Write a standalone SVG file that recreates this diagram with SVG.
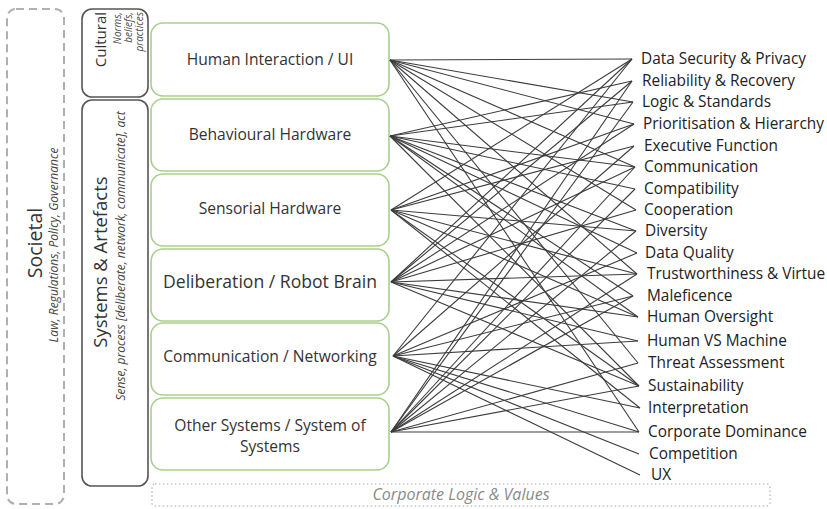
<svg xmlns="http://www.w3.org/2000/svg" width="827" height="509" viewBox="0 0 827 509">
<style>
.bg{fill:#ffffff}
.node rect{fill:#ffffff;stroke:#a9cf8c;stroke-width:1.6}
.node text{font-family:"Open Sans",Lato,sans-serif;font-size:15.6px;fill:#333;text-anchor:middle}
.frame{fill:none;stroke:#555;stroke-width:1.6}
.soc{fill:none;stroke:#b0b0b0;stroke-width:2;stroke-dasharray:8 5}
.corp{fill:none;stroke:#c4c4c4;stroke-width:1.6;stroke-dasharray:1.5 2.5}
.t{font-family:"Open Sans",Lato,sans-serif;fill:#333}
.it{font-family:"Open Sans",Lato,sans-serif;font-style:italic;fill:#444}
.lbl text{font-family:"Open Sans",Lato,sans-serif;font-size:15.4px;fill:#222}
.links line{stroke:#3c3c3c;stroke-width:1.1}
</style>
<rect class="bg" width="827" height="509"/>

<g id="societal">
<rect class="soc" x="7" y="9" width="57" height="495" rx="9"/>
<text class="t" font-size="19.5" text-anchor="middle" transform="translate(42,243) rotate(-90)">Societal</text>
<text class="it" font-size="12" text-anchor="middle" transform="translate(58,245) rotate(-90)">Law, Regulations, Policy, Governance</text>
</g>

<g id="cultural">
<rect class="frame" x="82" y="9" width="66" height="88" rx="10"/>
<text class="t" font-size="15" text-anchor="end" transform="translate(106,12) rotate(-90)">Cultural</text>
<text class="it" font-size="10" text-anchor="end" transform="translate(121,12) rotate(-90)">Norms,</text>
<text class="it" font-size="10" text-anchor="end" transform="translate(132,12) rotate(-90)">beliefs,</text>
<text class="it" font-size="10" text-anchor="end" transform="translate(143,12) rotate(-90)">practices</text>
</g>

<g id="systems">
<rect class="frame" x="82" y="100" width="66" height="386" rx="10"/>
<text class="t" font-size="18.5" text-anchor="middle" transform="translate(107,262) rotate(-90)">Systems &amp; Artefacts</text>
<text class="it" font-size="12" text-anchor="middle" transform="translate(125,256) rotate(-90)">Sense, process [deliberate, network, communicate], act</text>
</g>

<g id="corporate-logic">
<rect class="corp" x="152" y="484" width="618" height="22" rx="3"/>
<text class="it" font-size="16" style="fill:#8a8a8a" x="461" y="500" text-anchor="middle">Corporate Logic &amp; Values</text>
</g>

<g id="n-human-interaction" class="node"><rect x="151" y="23" width="238" height="73" rx="12"/><text x="270" y="65">Human Interaction / UI</text></g>
<g id="n-behavioural" class="node"><rect x="151" y="99" width="238" height="72" rx="12"/><text x="270" y="140">Behavioural Hardware</text></g>
<g id="n-sensorial" class="node"><rect x="151" y="174" width="238" height="72" rx="12"/><text x="270" y="214">Sensorial Hardware</text></g>
<g id="n-deliberation" class="node"><rect x="151" y="249" width="238" height="72" rx="12"/><text x="270" y="288" style="font-size:17.6px">Deliberation / Robot Brain</text></g>
<g id="n-communication" class="node"><rect x="151" y="323" width="238" height="72" rx="12"/><text x="270" y="362">Communication / Networking</text></g>
<g id="n-other" class="node"><rect x="151" y="398" width="238" height="72" rx="12"/><text x="270" y="431">Other Systems / System of</text><text x="270" y="452">Systems</text></g>

<g id="connectors" class="links">
<!-- Human Interaction / UI -->
<line x1="390" y1="60" x2="632" y2="59"/>
<line x1="390" y1="60" x2="633" y2="102"/>
<line x1="390" y1="60" x2="634" y2="124"/>
<line x1="390" y1="60" x2="635" y2="167"/>
<line x1="390" y1="60" x2="636" y2="210"/>
<line x1="390" y1="60" x2="637" y2="274"/>
<line x1="390" y1="60" x2="638" y2="363"/>
<line x1="390" y1="60" x2="639" y2="432"/>
<!-- Behavioural Hardware -->
<line x1="390" y1="136" x2="632" y2="81"/>
<line x1="390" y1="136" x2="633" y2="102"/>
<line x1="390" y1="136" x2="635" y2="167"/>
<line x1="390" y1="136" x2="635" y2="189"/>
<line x1="390" y1="136" x2="636" y2="231"/>
<line x1="390" y1="136" x2="637" y2="253"/>
<line x1="390" y1="136" x2="633" y2="296"/>
<line x1="390" y1="136" x2="638" y2="317"/>
<line x1="390" y1="136" x2="639" y2="386"/>
<!-- Sensorial Hardware -->
<line x1="391" y1="210" x2="632" y2="59"/>
<line x1="391" y1="210" x2="634" y2="124"/>
<line x1="391" y1="210" x2="634" y2="146"/>
<line x1="391" y1="210" x2="636" y2="231"/>
<line x1="391" y1="210" x2="637" y2="274"/>
<line x1="391" y1="210" x2="638" y2="317"/>
<line x1="391" y1="210" x2="639" y2="386"/>
<line x1="391" y1="210" x2="640" y2="408"/>
<!-- Deliberation / Robot Brain -->
<line x1="391" y1="282" x2="632" y2="59"/>
<line x1="391" y1="282" x2="632" y2="81"/>
<line x1="391" y1="282" x2="634" y2="124"/>
<line x1="391" y1="282" x2="635" y2="167"/>
<line x1="391" y1="282" x2="636" y2="210"/>
<line x1="391" y1="282" x2="637" y2="274"/>
<line x1="391" y1="282" x2="638" y2="317"/>
<line x1="391" y1="282" x2="638" y2="341"/>
<line x1="391" y1="282" x2="639" y2="386"/>
<!-- Communication / Networking -->
<line x1="393" y1="356" x2="632" y2="59"/>
<line x1="393" y1="356" x2="634" y2="146"/>
<line x1="393" y1="356" x2="637" y2="253"/>
<line x1="393" y1="356" x2="633" y2="296"/>
<line x1="393" y1="356" x2="638" y2="341"/>
<line x1="393" y1="356" x2="640" y2="408"/>
<line x1="393" y1="356" x2="639" y2="432"/>
<line x1="393" y1="356" x2="639" y2="454"/>
<line x1="393" y1="356" x2="640" y2="475"/>
<!-- Other Systems / System of Systems -->
<line x1="391" y1="432" x2="632" y2="81"/>
<line x1="391" y1="432" x2="633" y2="102"/>
<line x1="391" y1="432" x2="635" y2="167"/>
<line x1="391" y1="432" x2="635" y2="189"/>
<line x1="391" y1="432" x2="636" y2="231"/>
<line x1="391" y1="432" x2="637" y2="274"/>
<line x1="391" y1="432" x2="633" y2="296"/>
<line x1="391" y1="432" x2="638" y2="363"/>
<line x1="391" y1="432" x2="639" y2="386"/>
<line x1="391" y1="432" x2="639" y2="432"/>
</g>

<g id="t-data-security" class="lbl"><text x="641" y="64">Data Security &amp; Privacy</text></g>
<g id="t-reliability" class="lbl"><text x="642" y="86">Reliability &amp; Recovery</text></g>
<g id="t-logic" class="lbl"><text x="642" y="107">Logic &amp; Standards</text></g>
<g id="t-prioritisation" class="lbl"><text x="643" y="129">Prioritisation &amp; Hierarchy</text></g>
<g id="t-executive" class="lbl"><text x="644" y="151">Executive Function</text></g>
<g id="t-communication" class="lbl"><text x="644" y="172">Communication</text></g>
<g id="t-compatibility" class="lbl"><text x="644" y="194">Compatibility</text></g>
<g id="t-cooperation" class="lbl"><text x="644" y="215">Cooperation</text></g>
<g id="t-diversity" class="lbl"><text x="645" y="236">Diversity</text></g>
<g id="t-data-quality" class="lbl"><text x="645" y="258">Data Quality</text></g>
<g id="t-trustworthiness" class="lbl"><text x="647" y="279">Trustworthiness &amp; Virtue</text></g>
<g id="t-maleficence" class="lbl"><text x="647" y="301">Maleficence</text></g>
<g id="t-human-oversight" class="lbl"><text x="647" y="322">Human Oversight</text></g>
<g id="t-human-vs-machine" class="lbl"><text x="647" y="346">Human VS Machine</text></g>
<g id="t-threat" class="lbl"><text x="648" y="368">Threat Assessment</text></g>
<g id="t-sustainability" class="lbl"><text x="648" y="391">Sustainability</text></g>
<g id="t-interpretation" class="lbl"><text x="648" y="413">Interpretation</text></g>
<g id="t-corporate-dominance" class="lbl"><text x="648" y="437">Corporate Dominance</text></g>
<g id="t-competition" class="lbl"><text x="649" y="459">Competition</text></g>
<g id="t-ux" class="lbl"><text x="651" y="480">UX</text></g>
</svg>
